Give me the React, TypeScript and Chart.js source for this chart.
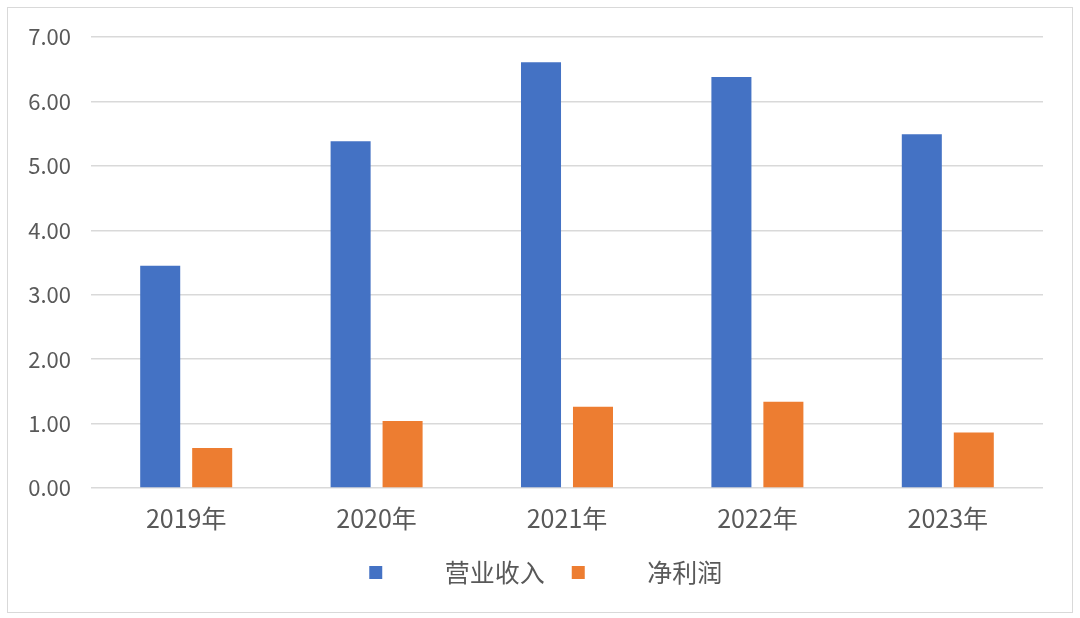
import { useEffect, useRef } from "react";
import { Chart, registerables } from "chart.js";

Chart.register(...registerables);

const years = ["2019年", "2020年", "2021年", "2022年", "2023年"];
const revenue = [3.45, 5.38, 6.61, 6.38, 5.49];
const netProfit = [0.62, 1.04, 1.26, 1.34, 0.86];
const seriesNames = ["营业收入", "净利润"];

const FONT = "'Noto Sans CJK SC', 'Noto Sans', sans-serif";
const TEXT = "#595959";

export default function App() {
  const canvasRef = useRef<HTMLCanvasElement | null>(null);
  const chartRef = useRef<Chart | null>(null);

  useEffect(() => {
    document.body.style.margin = "0";
    if (!canvasRef.current) return;
    if (chartRef.current) chartRef.current.destroy();

    chartRef.current = new Chart(canvasRef.current, {
      type: "bar",
      data: {
        labels: years,
        datasets: [
          {
            label: seriesNames[0],
            data: revenue,
            backgroundColor: "#4472C4",
            barPercentage: 0.77,
            categoryPercentage: 0.546,
          },
          {
            label: seriesNames[1],
            data: netProfit,
            backgroundColor: "#ED7D31",
            barPercentage: 0.77,
            categoryPercentage: 0.546,
          },
        ],
      },
      options: {
        animation: false,
        responsive: true,
        maintainAspectRatio: false,
        layout: { padding: { left: 0, right: 37, top: 37, bottom: 23 } },
        plugins: {
          tooltip: { enabled: false },
          legend: {
            position: "bottom",
            fullSize: false,
            labels: {
              color: TEXT,
              font: { family: FONT, size: 25 },
              boxWidth: 13,
              boxHeight: 13,
              padding: 27,
              // wide gap between marker and text, as in the source
              generateLabels: (chart) =>
                Chart.defaults.plugins.legend.labels
                  .generateLabels(chart)
                  .map((l, i, all) => ({
                    ...l,
                    text:
                      "\u3000\u3000" +
                      l.text +
                      (i === all.length - 1 ? "\u3000\u2002\u2009" : ""),
                  })),
            },
          },
        },
        scales: {
          x: {
            grid: { display: false, drawTicks: false },
            border: { display: false },
            ticks: {
              color: TEXT,
              font: { family: FONT, size: 25 },
              padding: 15,
            },
            afterFit: (s: any) => {
              s.height = 45;
            },
          },
          y: {
            min: 0,
            max: 7,
            grid: { color: "#d9d9d9", lineWidth: 1.5, drawTicks: false },
            border: { display: false },
            ticks: {
              stepSize: 1,
              color: TEXT,
              font: { family: FONT, size: 22 },
              padding: 20,
              callback: (v) => Number(v).toFixed(2),
            },
            afterFit: (s: any) => {
              s.width = 91;
            },
          },
        },
      },
    });

    return () => {
      chartRef.current?.destroy();
      chartRef.current = null;
    };
  }, []);

  return (
    <div style={{ position: "relative", width: 1080, height: 618, background: "#fff" }}>
      <div
        style={{
          position: "absolute",
          left: 7,
          top: 7,
          width: 1066,
          height: 606,
          border: "1.5px solid #d9d9d9",
          boxSizing: "border-box",
        }}
      />
      <div style={{ position: "absolute", left: 0, top: 0, width: 1080, height: 618 }}>
        <canvas ref={canvasRef} />
      </div>
    </div>
  );
}
